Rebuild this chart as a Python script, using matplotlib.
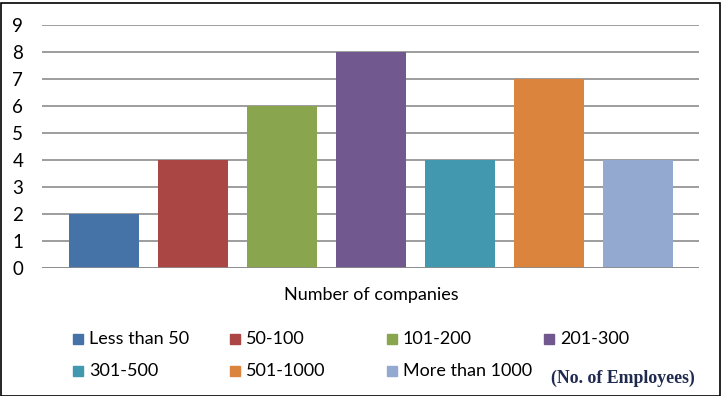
import matplotlib.pyplot as plt
from matplotlib.patches import Rectangle

# Companies by size band (No. of Employees)
bands = ['Less than 50', '50-100', '101-200', '201-300',
         '301-500', '501-1000', 'More than 1000']
companies = [2, 4, 6, 8, 4, 7, 4]
colours = ['#4572A7', '#AA4643', '#89A54E', '#71588F',
           '#4198AF', '#DB843D', '#93A9CF']
yticks = list(range(0, 10))

plt.rcParams['font.family'] = ['Lato', 'DejaVu Sans']

fig = plt.figure(figsize=(7.23, 3.96), dpi=100)
W, H = 723, 396

# outer border
fig.patches.append(Rectangle((1 / W, 0), 719 / W, 1 - 3 / H, transform=fig.transFigure,
                             fill=False, edgecolor='black', linewidth=1.2))

ax = fig.add_axes([42 / W, 1 - 268 / H, (699 - 42) / W, (268 - 25) / H])
x = list(range(len(bands)))
ax.bar(x, companies, width=0.787, color=colours, zorder=3)
ax.set_xlim(-0.695, len(bands) - 1 + 0.69)
ax.set_ylim(0, 9)
ax.set_yticks(yticks)
ax.set_xticks([])
ax.yaxis.grid(True, color='#8c8c8c', linewidth=1.2, zorder=0)
ax.tick_params(axis='y', length=0, pad=13.5, labelsize=13.5)
for s in ['top', 'right', 'left', 'bottom']:
    ax.spines[s].set_visible(False)
ax.axhline(0, color='#8c8c8c', linewidth=1.2, zorder=4)

fig.text(371 / W, 1 - 295 / H, 'Number of companies', ha='center', va='center', fontsize=13)

# legend, 4 per row
for i, (lab, col) in enumerate(zip(bands, colours)):
    r, c = divmod(i, 4)
    xm = 73 + 157 * c
    ym = 339 + 32 * r
    fig.patches.append(Rectangle((xm / W, 1 - (ym + 5) / H), 10 / W, 10 / H,
                                 transform=fig.transFigure, color=col))
    fig.text((xm + 16) / W, 1 - ym / H, lab, ha='left', va='center', fontsize=13)

fig.text(551 / W, 1 - 378 / H, '(No. of Employees)', ha='left', va='center',
         fontsize=12.8, fontweight='bold', family='Liberation Serif', color='#1F2A4F')

fig.savefig('out.png', dpi=100)
